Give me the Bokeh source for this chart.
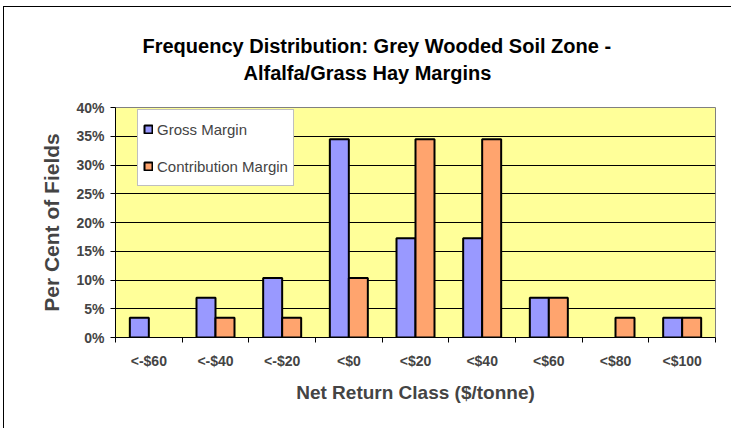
import numpy as np
from bokeh.plotting import figure
from bokeh.models import (ColumnDataSource, FixedTicker, NumeralTickFormatter,
                          Range1d, Title, Legend, LegendItem)
from bokeh.embed import file_html
from bokeh.resources import INLINE

categories = ["<-$60", "<-$40", "<-$20", "<$0", "<$20", "<$40", "<$60", "<$80", "<$100"]
gross_margin = [0.0345, 0.069, 0.1035, 0.345, 0.1725, 0.1725, 0.069, 0.0, 0.0345]
contribution_margin = [0.0, 0.0345, 0.0345, 0.1035, 0.345, 0.345, 0.069, 0.0345, 0.0345]
y_ticks = [0.0, 0.05, 0.10, 0.15, 0.20, 0.25, 0.30, 0.35, 0.40]
title_lines = ["Alfalfa/Grass Hay Margins", "Frequency Distribution: Grey Wooded Soil Zone -"]

FONT = "Liberation Sans"
n = len(categories)
centers = np.arange(n) + 0.5
bw = 0.285

ga = [1.0 if v > 0 else 0.0 for v in gross_margin]
ca = [1.0 if v > 0 else 0.0 for v in contribution_margin]
src = ColumnDataSource(dict(
    xg=centers - bw / 2, xc=centers + bw / 2,
    g=gross_margin, c=contribution_margin, ga=ga, ca=ca))

p = figure(width=728, height=422, output_backend="svg", toolbar_location=None,
           x_range=Range1d(0, n), y_range=Range1d(0, 0.40), title=None,
           min_border_left=111, min_border_right=17, min_border_top=100,
           min_border_bottom=92)
p.background_fill_color = "#FFFF99"
p.border_fill_color = "white"
p.outline_line_color = "#808080"
p.outline_line_width = 1
p.styles = {"margin-left": "3px", "margin-top": "6px",
            "border-left": "1px solid black", "border-top": "1px solid black"}

rg = p.vbar(x="xg", top="g", width=bw, source=src, fill_color="#9999FF",
            line_color="black", line_width=2, line_alpha="ga")
rc = p.vbar(x="xc", top="c", width=bw, source=src, fill_color="#FFA46E",
            line_color="black", line_width=2, line_alpha="ca")

# axes
p.xaxis.ticker = FixedTicker(ticks=list(centers), minor_ticks=list(np.arange(n + 1)))
p.xaxis.major_label_overrides = {float(c): lab for c, lab in zip(centers, categories)}
p.xaxis.major_tick_line_color = None
p.xaxis.minor_tick_out = 5
p.xaxis.minor_tick_in = 0
p.xaxis.minor_tick_line_color = "black"
p.xaxis.axis_line_color = "black"
p.xaxis.major_label_text_font = FONT
p.xaxis.major_label_text_font_style = "bold"
p.xaxis.major_label_text_font_size = "14px"
p.xaxis.major_label_standoff = 9
p.xaxis.axis_label = "Net Return Class ($/tonne)"
p.xaxis.axis_label_text_font = FONT
p.xaxis.axis_label_text_font_style = "bold"
p.xaxis.axis_label_text_font_size = "19px"
p.xaxis.axis_label_standoff = 10

p.yaxis.ticker = FixedTicker(ticks=y_ticks)
p.yaxis.formatter = NumeralTickFormatter(format="0%")
p.yaxis.minor_tick_line_color = None
p.yaxis.major_tick_out = 5
p.yaxis.major_tick_in = 0
p.yaxis.major_tick_line_color = "black"
p.yaxis.axis_line_color = "black"
p.yaxis.major_label_text_font = FONT
p.yaxis.major_label_text_font_style = "bold"
p.yaxis.major_label_text_font_size = "14px"
p.yaxis.major_label_standoff = 6
p.yaxis.axis_label = "Per Cent of Fields"
p.yaxis.axis_label_text_font = FONT
p.yaxis.axis_label_text_font_style = "bold"
p.yaxis.axis_label_text_font_size = "21px"
p.yaxis.axis_label_standoff = 10

p.xgrid.grid_line_color = None
p.ygrid.ticker = FixedTicker(ticks=y_ticks)
p.ygrid.grid_line_color = "black"
p.ygrid.grid_line_width = 1

# title (two lines, bottom line added first)
title_offsets = [128, 27]
title_standoffs = [48, -43]
for txt, off, so in zip(title_lines, title_offsets, title_standoffs):
    p.add_layout(Title(text=txt, align="left", offset=off, text_font=FONT,
                       text_font_style="bold", text_font_size="20px",
                       text_color="black", standoff=so), "above")

legend = Legend(items=[LegendItem(label="Gross Margin", renderers=[rg], index=ga.index(1.0)),
                       LegendItem(label="Contribution Margin", renderers=[rc], index=ca.index(1.0))],
                location=(22, 151), orientation="vertical",
                label_text_font=FONT, label_text_font_size="15px",
                glyph_width=10, glyph_height=10, label_standoff=4,
                padding=5, spacing=9, margin=0, label_height=28,
                border_line_color="#808080", border_line_width=1,
                background_fill_color="white", background_fill_alpha=1)
p.add_layout(legend)

open("out.html", "w").write(file_html(p, INLINE))
